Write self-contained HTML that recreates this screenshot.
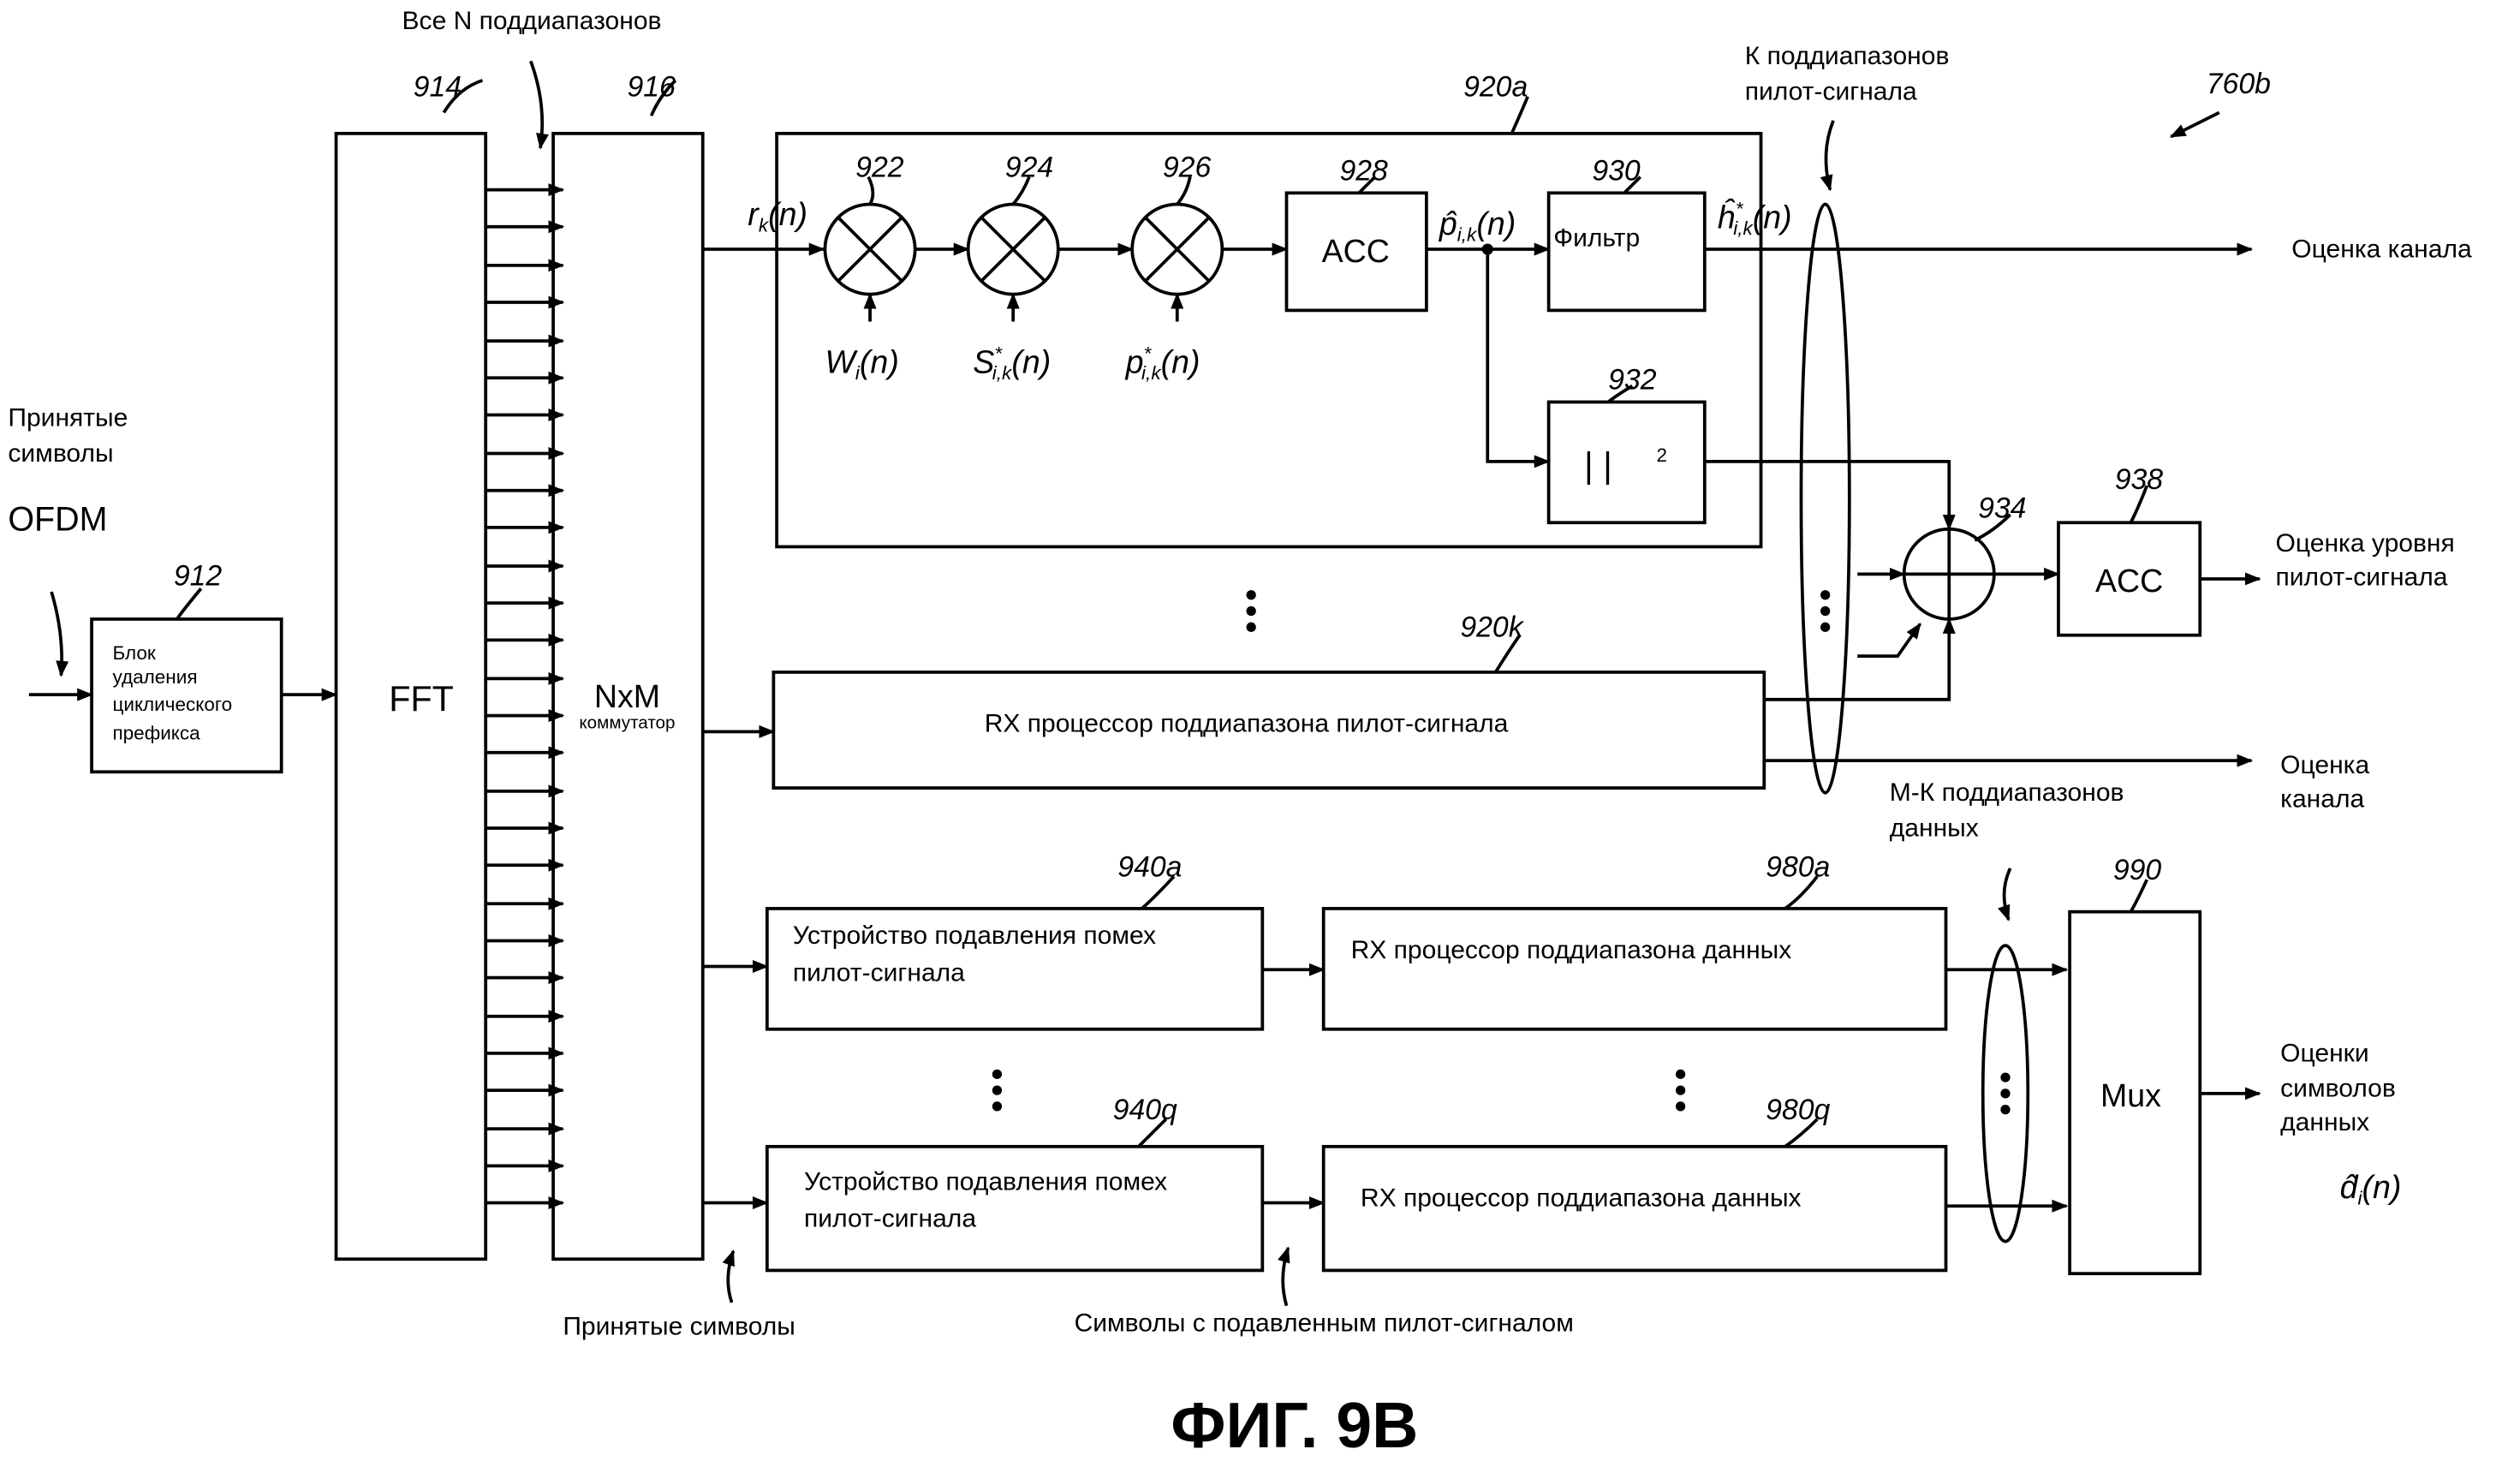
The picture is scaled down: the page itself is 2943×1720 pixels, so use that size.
<!DOCTYPE html>
<html><head><meta charset="utf-8"><style>
html,body{margin:0;padding:0;background:#fff}
svg{display:block}
text{font-family:"Liberation Sans",sans-serif;fill:#000}
.i{font-style:italic}
</style></head><body>
<svg width="2943" height="1720" viewBox="0 0 1567 916" preserveAspectRatio="none" xmlns="http://www.w3.org/2000/svg">
<defs><marker id="a" markerWidth="10" markerHeight="8" refX="9" refY="4" orient="auto" markerUnits="userSpaceOnUse"><path d="M0,0 L10,4 L0,8 z" fill="#000" stroke="none"/></marker></defs>
<g fill="none" stroke="#000" stroke-width="2">
<rect x="57" y="385" width="118" height="95"/>
<rect x="209" y="83" width="93" height="700"/>
<rect x="344" y="83" width="93" height="700"/>
<rect x="483" y="83" width="612" height="257"/>
<rect x="800" y="120" width="87" height="73"/>
<rect x="963" y="120" width="97" height="73"/>
<rect x="963" y="250" width="97" height="75"/>
<rect x="1280" y="325" width="88" height="70"/>
<rect x="481" y="418" width="616" height="72"/>
<rect x="477" y="565" width="308" height="75"/>
<rect x="823" y="565" width="387" height="75"/>
<rect x="477" y="713" width="308" height="77"/>
<rect x="823" y="713" width="387" height="77"/>
<rect x="1287" y="567" width="81" height="225"/>
<circle cx="541" cy="155" r="28"/><path d="M521,135 L561,175 M561,135 L521,175"/>
<circle cx="630" cy="155" r="28"/><path d="M610,135 L650,175 M650,135 L610,175"/>
<circle cx="732" cy="155" r="28"/><path d="M712,135 L752,175 M752,135 L712,175"/>
<circle cx="1212" cy="357" r="28"/><path d="M1184,357 L1240,357 M1212,329 L1212,385"/>
<ellipse cx="1135" cy="310" rx="15" ry="183"/>
<ellipse cx="1247" cy="680" rx="14" ry="92"/>
<path d="M18,432 L57,432" marker-end="url(#a)"/>
<path d="M175,432 L209,432" marker-end="url(#a)"/>
<path d="M32,368 Q40,395 38,420" marker-end="url(#a)"/>
<path d="M330,38 Q340,65 336,92" marker-end="url(#a)"/>
<path d="M1140,75 Q1132,95 1138,118" marker-end="url(#a)"/>
<path d="M1250,540 Q1243,555 1249,572" marker-end="url(#a)"/>
<path d="M1380,70 L1350,85" marker-end="url(#a)"/>
<path d="M455,810 Q450,795 456,778" marker-end="url(#a)"/>
<path d="M800,812 Q795,795 801,776" marker-end="url(#a)"/>
<path d="M437,155 L512,155" marker-end="url(#a)"/>
<path d="M569,155 L602,155" marker-end="url(#a)"/>
<path d="M658,155 L704,155" marker-end="url(#a)"/>
<path d="M760,155 L800,155" marker-end="url(#a)"/>
<path d="M887,155 L963,155" marker-end="url(#a)"/>
<path d="M1060,155 L1400,155" marker-end="url(#a)"/>
<path d="M541,200 L541,183" marker-end="url(#a)"/>
<path d="M630,200 L630,183" marker-end="url(#a)"/>
<path d="M732,200 L732,183" marker-end="url(#a)"/>
<path d="M925,155 L925,287 L963,287" marker-end="url(#a)"/>
<path d="M1060,287 L1212,287 L1212,329" marker-end="url(#a)"/>
<path d="M1155,357 L1184,357" marker-end="url(#a)"/>
<path d="M1155,408 L1180,408 L1194,388" marker-end="url(#a)"/>
<path d="M1097,435 L1212,435 L1212,385" marker-end="url(#a)"/>
<path d="M1240,357 L1280,357" marker-end="url(#a)"/>
<path d="M1368,360 L1405,360" marker-end="url(#a)"/>
<path d="M437,455 L481,455" marker-end="url(#a)"/>
<path d="M1097,473 L1400,473" marker-end="url(#a)"/>
<path d="M437,601 L477,601" marker-end="url(#a)"/>
<path d="M785,603 L823,603" marker-end="url(#a)"/>
<path d="M1210,603 L1285,603" marker-end="url(#a)"/>
<path d="M437,748 L477,748" marker-end="url(#a)"/>
<path d="M785,748 L823,748" marker-end="url(#a)"/>
<path d="M1210,750 L1285,750" marker-end="url(#a)"/>
<path d="M1368,680 L1405,680" marker-end="url(#a)"/>
<path d="M300,50 Q285,55 276,70 M420,50 Q410,60 405,72 M950,60 Q945,72 940,83 M540,110 Q545,120 541,127 M640,110 Q636,120 630,127 M740,110 Q738,120 732,127 M855,110 Q850,115 845,120 M1020,110 Q1015,115 1010,120 M1015,240 Q1005,246 1000,250 M1250,320 Q1240,330 1228,336 M1335,302 Q1330,315 1325,325 M945,395 Q938,405 930,418 M125,366 Q115,378 110,385 M730,545 Q718,558 710,565 M1130,545 Q1120,558 1110,565 M1335,547 Q1330,558 1325,567 M725,696 Q715,706 708,713 M1130,696 Q1120,706 1110,713"/>
<path d="M302,118 L350,118" marker-end="url(#a)"/>
<path d="M302,141 L350,141" marker-end="url(#a)"/>
<path d="M302,165 L350,165" marker-end="url(#a)"/>
<path d="M302,188 L350,188" marker-end="url(#a)"/>
<path d="M302,212 L350,212" marker-end="url(#a)"/>
<path d="M302,235 L350,235" marker-end="url(#a)"/>
<path d="M302,258 L350,258" marker-end="url(#a)"/>
<path d="M302,282 L350,282" marker-end="url(#a)"/>
<path d="M302,305 L350,305" marker-end="url(#a)"/>
<path d="M302,328 L350,328" marker-end="url(#a)"/>
<path d="M302,352 L350,352" marker-end="url(#a)"/>
<path d="M302,375 L350,375" marker-end="url(#a)"/>
<path d="M302,398 L350,398" marker-end="url(#a)"/>
<path d="M302,422 L350,422" marker-end="url(#a)"/>
<path d="M302,445 L350,445" marker-end="url(#a)"/>
<path d="M302,468 L350,468" marker-end="url(#a)"/>
<path d="M302,492 L350,492" marker-end="url(#a)"/>
<path d="M302,515 L350,515" marker-end="url(#a)"/>
<path d="M302,538 L350,538" marker-end="url(#a)"/>
<path d="M302,562 L350,562" marker-end="url(#a)"/>
<path d="M302,585 L350,585" marker-end="url(#a)"/>
<path d="M302,608 L350,608" marker-end="url(#a)"/>
<path d="M302,632 L350,632" marker-end="url(#a)"/>
<path d="M302,655 L350,655" marker-end="url(#a)"/>
<path d="M302,678 L350,678" marker-end="url(#a)"/>
<path d="M302,702 L350,702" marker-end="url(#a)"/>
<path d="M302,725 L350,725" marker-end="url(#a)"/>
<path d="M302,748 L350,748" marker-end="url(#a)"/>
</g>
<circle cx="925" cy="155" r="3.5" fill="#000"/>
<g fill="#000">
<circle cx="778" cy="370" r="3"/><circle cx="778" cy="380" r="3"/><circle cx="778" cy="390" r="3"/>
<circle cx="1135" cy="370" r="3"/><circle cx="1135" cy="380" r="3"/><circle cx="1135" cy="390" r="3"/>
<circle cx="620" cy="668" r="3"/><circle cx="620" cy="678" r="3"/><circle cx="620" cy="688" r="3"/>
<circle cx="1045" cy="668" r="3"/><circle cx="1045" cy="678" r="3"/><circle cx="1045" cy="688" r="3"/>
<circle cx="1247" cy="670" r="3"/><circle cx="1247" cy="680" r="3"/><circle cx="1247" cy="690" r="3"/>
</g>
<g font-size="16">
<text x="250" y="18">Все N поддиапазонов</text>
<text x="5" y="265">Принятые</text><text x="5" y="287">символы</text>
<text x="5" y="330" font-size="21">OFDM</text>
<text x="70" y="410" font-size="12">Блок</text>
<text x="70" y="425" font-size="12">удаления</text>
<text x="70" y="442" font-size="12">циклического</text>
<text x="70" y="460" font-size="12">префикса</text>
<text x="262" y="442" font-size="22" text-anchor="middle">FFT</text>
<text x="390" y="440" font-size="20" text-anchor="middle">NxM</text>
<text x="390" y="453" font-size="11" text-anchor="middle">коммутатор</text>
<text x="843" y="163" font-size="20" text-anchor="middle">ACC</text>
<text x="1324" y="368" font-size="20" text-anchor="middle">ACC</text>
<text x="966" y="153">Фильтр</text>
<text x="985" y="297" font-size="22">|  |</text><text x="1030" y="287" font-size="12">2</text>
<text x="1425" y="160">Оценка канала</text>
<text x="1415" y="343">Оценка уровня</text><text x="1415" y="364">пилот-сигнала</text>
<text x="1418" y="481">Оценка</text><text x="1418" y="502">канала</text>
<text x="1085" y="40">К поддиапазонов</text><text x="1085" y="62">пилот-сигнала</text>
<text x="1175" y="498">М-К поддиапазонов</text><text x="1175" y="520">данных</text>
<text x="1418" y="660">Оценки</text><text x="1418" y="682">символов</text><text x="1418" y="703">данных</text>
<text x="1455" y="745" font-size="20" class="i">d̂<tspan font-size="12" dy="4">i</tspan><tspan dy="-4">(n)</tspan></text>
<text x="775" y="455" text-anchor="middle">RX процессор поддиапазона пилот-сигнала</text>
<text x="493" y="587">Устройство подавления помех</text><text x="493" y="610">пилот-сигнала</text>
<text x="840" y="596">RX процессор поддиапазона данных</text>
<text x="500" y="740">Устройство подавления помех</text><text x="500" y="763">пилот-сигнала</text>
<text x="846" y="750">RX процессор поддиапазона данных</text>
<text x="1325" y="688" font-size="20" text-anchor="middle">Mux</text>
<text x="350" y="830">Принятые символы</text>
<text x="668" y="828">Символы с подавленным пилот-сигналом</text>
<text x="805" y="900" font-size="40" font-weight="bold" text-anchor="middle">ФИГ. 9В</text>
<g class="i" font-size="18">
<text x="257" y="60">914</text><text x="390" y="60">916</text><text x="910" y="60">920a</text>
<text x="1372" y="58">760b</text>
<text x="532" y="110">922</text><text x="625" y="110">924</text><text x="723" y="110">926</text>
<text x="833" y="112">928</text><text x="990" y="112">930</text><text x="1000" y="242">932</text>
<text x="1230" y="322">934</text><text x="1315" y="304">938</text>
<text x="108" y="364">912</text><text x="908" y="396">920k</text>
<text x="695" y="545">940a</text><text x="1098" y="545">980a</text><text x="1314" y="547">990</text>
<text x="692" y="696">940q</text><text x="1098" y="696">980q</text>
<text x="465" y="140" font-size="20">r<tspan font-size="12" dy="4">k</tspan><tspan dy="-4">(n)</tspan></text>
<text x="513" y="232" font-size="20">W<tspan font-size="12" dy="4">i</tspan><tspan dy="-4">(n)</tspan></text>
<text x="605" y="232" font-size="20">S<tspan font-size="12" dy="-8">*</tspan><tspan font-size="12" dx="-6" dy="12">i,k</tspan><tspan dy="-4">(n)</tspan></text>
<text x="700" y="232" font-size="20">p<tspan font-size="12" dy="-8">*</tspan><tspan font-size="12" dx="-6" dy="12">i,k</tspan><tspan dy="-4">(n)</tspan></text>
<text x="895" y="146" font-size="20">p̂<tspan font-size="12" dy="4">i,k</tspan><tspan dy="-4">(n)</tspan></text>
<text x="1068" y="142" font-size="20">ĥ<tspan font-size="12" dy="-8">*</tspan><tspan font-size="12" dx="-6" dy="12">i,k</tspan><tspan dy="-4">(n)</tspan></text>
</g>
</g>
</svg>
</body></html>
